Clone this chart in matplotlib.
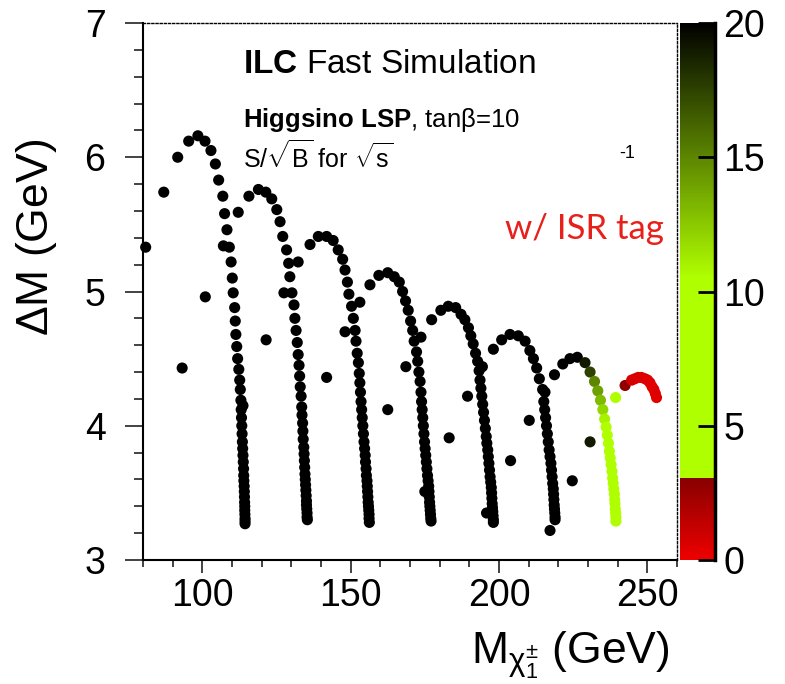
import matplotlib
matplotlib.use('Agg')
import matplotlib.pyplot as plt
from matplotlib.colors import LinearSegmentedColormap
from matplotlib.ticker import MultipleLocator

plt.rcParams['font.family'] = ['Liberation Sans', 'DejaVu Sans']
plt.rcParams['mathtext.fontset'] = 'custom'
plt.rcParams['mathtext.rm'] = 'Liberation Sans'
plt.rcParams['mathtext.it'] = 'Liberation Sans:italic'
plt.rcParams['mathtext.bf'] = 'Liberation Sans:bold'

# Chargino mass (GeV) and mass splitting (GeV), one scan per arc
arc1_m = [80.9, 87.0, 91.7, 95.4, 98.5, 100.9, 102.9, 104.4, 105.5, 106.9,
          107.5, 108.3, 107.1, 109.1, 109.7, 110.1, 110.4, 110.9, 111.1, 111.3,
          111.6, 111.9, 112.3, 112.6, 112.8, 113.0, 113.7, 113.1, 113.2, 113.3,
          113.4, 113.5, 113.6, 113.7, 113.8, 113.9, 113.95, 114.0, 114.1, 114.15,
          114.2, 114.25, 114.3, 114.3, 114.35, 114.4, 114.4, 114.4]
arc1_dm = [5.33, 5.74, 6.00, 6.12, 6.16, 6.12, 6.05, 5.95, 5.83, 5.71,
           5.58, 5.46, 5.34, 5.33, 5.22, 5.10, 4.99, 4.88, 4.78, 4.68,
           4.59, 4.50, 4.42, 4.34, 4.27, 4.19, 4.15, 4.12, 4.06, 4.00,
           3.94, 3.88, 3.83, 3.78, 3.73, 3.68, 3.63, 3.59, 3.55, 3.51,
           3.47, 3.43, 3.40, 3.37, 3.34, 3.31, 3.29, 3.27]

arc2_m = [112.1, 115.7, 118.9, 121.4, 123.4, 125.1, 126.2, 127.1, 128.4, 129.1,
          129.5, 127.5, 130.2, 130.9, 131.2, 131.6, 132.0, 132.3, 132.6, 132.8,
          133.0, 133.3, 133.5, 133.6, 133.8, 133.9, 134.0, 134.2, 134.3, 134.4,
          134.5, 134.6, 134.7, 134.8, 134.9, 135.0, 135.1, 135.1, 135.2, 135.3,
          135.3, 135.4]
arc2_dm = [5.59, 5.71, 5.76, 5.74, 5.69, 5.61, 5.52, 5.41, 5.31, 5.21,
           5.11, 4.99, 4.99, 4.90, 4.80, 4.71, 4.62, 4.53, 4.45, 4.37,
           4.29, 4.22, 4.14, 4.08, 4.02, 3.96, 3.90, 3.84, 3.79, 3.74,
           3.69, 3.64, 3.60, 3.56, 3.52, 3.48, 3.44, 3.41, 3.38, 3.35,
           3.32, 3.30]

arc3_m = [132.3, 136.3, 139.1, 141.9, 144.1, 145.8, 147.3, 148.1, 148.9, 149.4,
          150.3, 150.9, 148.1, 151.5, 151.8, 152.2, 152.6, 152.9, 153.1, 153.3,
          153.5, 153.7, 153.9, 154.1, 154.3, 154.5, 154.7, 154.9, 155.0, 155.2,
          155.3, 155.5, 155.6, 155.7, 155.8, 155.9, 156.0, 156.1, 156.2, 156.2,
          156.3]
arc3_dm = [5.22, 5.35, 5.41, 5.41, 5.38, 5.31, 5.24, 5.16, 5.07, 4.98,
           4.89, 4.80, 4.70, 4.71, 4.63, 4.54, 4.47, 4.39, 4.32, 4.25,
           4.18, 4.12, 4.06, 4.00, 3.94, 3.88, 3.83, 3.78, 3.73, 3.68,
           3.63, 3.59, 3.55, 3.51, 3.47, 3.43, 3.40, 3.37, 3.34, 3.31,
           3.28]

arc4_m = [153.1, 156.5, 159.5, 162.5, 164.7, 166.4, 167.5, 168.5, 169.4, 170.2,
          170.9, 171.4, 173.7, 172.2, 172.6, 173.0, 173.4, 173.7, 173.9, 174.1,
          174.3, 174.5, 174.7, 174.9, 175.1, 175.3, 175.5, 175.7, 175.9, 176.1,
          176.3, 176.4, 176.5, 176.6, 176.7, 176.8, 176.9, 177.0, 177.1]
arc4_dm = [4.92, 5.05, 5.12, 5.14, 5.11, 5.07, 5.00, 4.93, 4.86, 4.78,
           4.71, 4.63, 4.66, 4.55, 4.48, 4.40, 4.33, 4.25, 4.18, 4.12,
           4.06, 4.00, 3.94, 3.88, 3.83, 3.78, 3.73, 3.68, 3.63, 3.59,
           3.55, 3.51, 3.47, 3.43, 3.40, 3.37, 3.34, 3.31, 3.29]

arc5_m = [177.3, 180.4, 182.9, 185.4, 187.2, 188.5, 189.7, 190.5, 191.3, 192.1,
          192.8, 194.4, 193.3, 193.6, 193.9, 194.2, 194.5, 194.8, 195.1, 195.4,
          195.7, 195.9, 196.2, 196.4, 196.6, 196.8, 197.0, 197.2, 197.4, 197.5,
          197.6, 197.7, 197.8, 197.9, 198.0, 198.1, 198.1]
arc5_dm = [4.79, 4.86, 4.89, 4.88, 4.83, 4.79, 4.73, 4.67, 4.61, 4.54,
           4.48, 4.44, 4.41, 4.34, 4.28, 4.22, 4.16, 4.10, 4.04, 3.98,
           3.92, 3.87, 3.82, 3.77, 3.72, 3.67, 3.62, 3.58, 3.54, 3.50,
           3.46, 3.42, 3.39, 3.36, 3.33, 3.30, 3.28]

arc6_m = [198.1, 200.9, 203.7, 206.5, 208.8, 210.4, 211.6, 212.7, 213.6, 214.7,
          215.5, 215.1, 215.4, 215.7, 216.0, 216.3, 216.6, 216.9, 217.2, 217.5,
          217.7, 217.9, 218.1, 218.3, 218.4, 218.5, 218.6, 218.7, 218.8, 218.9,
          218.9]
arc6_dm = [4.57, 4.64, 4.68, 4.67, 4.63, 4.56, 4.50, 4.43, 4.35, 4.27,
           4.25, 4.18, 4.12, 4.06, 4.00, 3.94, 3.88, 3.82, 3.77, 3.72,
           3.67, 3.62, 3.57, 3.53, 3.49, 3.45, 3.41, 3.38, 3.35, 3.32,
           3.30]

arc7_m = [218.7, 221.5, 223.9, 226.4, 229.0, 230.7, 232.2, 233.3, 234.2, 235.0,
          235.6, 236.1, 236.5, 236.9, 237.2, 237.5, 237.8, 238.1, 238.3, 238.5,
          238.7, 238.9, 239.0, 239.1, 239.2, 239.3, 239.4, 239.4]
arc7_dm = [4.38, 4.46, 4.50, 4.51, 4.47, 4.40, 4.33, 4.26, 4.19, 4.12,
           4.05, 3.99, 3.93, 3.87, 3.81, 3.76, 3.71, 3.66, 3.61, 3.57,
           3.53, 3.49, 3.45, 3.42, 3.38, 3.35, 3.32, 3.29]
arc7_z = [20, 20, 20, 20, 19, 17.5, 15, 14, 13, 12,
          11, 10, 9.5, 9, 9, 8.5, 8.5, 8, 8, 8,
          7.5, 7.5, 7.5, 7, 7, 7, 7, 7]

arc8_m = [242.5, 244.7, 245.8, 246.9, 248.0, 249.2, 250.1, 250.9, 251.6, 252.2,
          252.7, 253.1]
arc8_dm = [4.30, 4.34, 4.35, 4.36, 4.36, 4.35, 4.34, 4.32, 4.29, 4.27,
           4.24, 4.21]
arc8_z = [2.8, 0.8, 0.7, 0.6, 0.6, 0.5, 0.5, 0.5, 0.4, 0.4,
          0.4, 0.4]

# off-arc points
iso_m = [93.2, 101.0, 121.5, 141.9, 162.5, 168.6, 175.0, 183.2, 189.4, 195.8,
         203.9, 210.2, 217.2, 224.7, 230.7, 239.3]
iso_dm = [4.43, 4.96, 4.64, 4.36, 4.12, 4.44, 3.51, 3.91, 4.22, 3.35,
          3.74, 4.04, 3.22, 3.59, 3.88, 4.21]
iso_z = [20, 20, 20, 20, 20, 20, 20, 20, 20, 20,
         20, 20, 20, 20, 19, 6]

# arcs 1-6 sit above the top of the palette
Z_MAX = 20
black_arcs = [(arc1_m, arc1_dm), (arc2_m, arc2_dm), (arc3_m, arc3_dm),
              (arc4_m, arc4_dm), (arc5_m, arc5_dm), (arc6_m, arc6_dm)]

# palette: red below 3, flat yellow-green, then fading to black at 20
cmap = LinearSegmentedColormap.from_list('sig', [
    (0.0, '#ee0000'),
    (0.1499, '#880000'),
    (0.15, '#b0ff00'),
    (0.525, '#b0ff00'),
    (1.0, '#000000'),
])

fig = plt.figure(figsize=(7.85, 6.84), dpi=100)
ax = fig.add_axes([143/785, 124/684, 534/785, 537/684])
cax = fig.add_axes([680/785, 124/684, 35/785, 537/684])

kw = dict(cmap=cmap, vmin=0, vmax=Z_MAX, s=64, edgecolors='none', zorder=3, clip_on=False)
for m, dm in black_arcs:
    ax.scatter(m, dm, c=[Z_MAX] * len(m), **kw)
ax.scatter(iso_m, iso_dm, c=iso_z, **kw)
ax.scatter(arc7_m, arc7_dm, c=arc7_z, **kw)
sc = ax.scatter(arc8_m, arc8_dm, c=arc8_z, **kw)

ax.set_xlim(80, 260)
ax.set_ylim(3, 7)
ax.xaxis.set_major_locator(MultipleLocator(50))
ax.xaxis.set_minor_locator(MultipleLocator(10))
ax.yaxis.set_major_locator(MultipleLocator(1))
ax.yaxis.set_minor_locator(MultipleLocator(0.2))
ax.tick_params(axis='both', which='both', direction='out', top=False, right=False,
               width=1.2, color='#222222')
ax.tick_params(axis='x', which='major', length=9.5, pad=3.5, labelsize=27)
ax.tick_params(axis='x', which='minor', length=5)
ax.tick_params(axis='y', which='major', length=13, pad=14, labelsize=27)
ax.tick_params(axis='y', which='minor', length=6.5)
for side in ['left', 'bottom']:
    ax.spines[side].set_linewidth(1.5)
for side in ['top', 'right']:
    ax.spines[side].set_linewidth(1)
    ax.spines[side].set_linestyle((0, (1.5, 1.5)))

cbar = fig.colorbar(sc, cax=cax)
cbar.set_ticks([0, 5, 10, 15, 20])
cbar.minorticks_off()
cbar.outline.set_visible(False)
cax.tick_params(direction='in', length=12, width=2, labelsize=27, pad=6, color='k')
cax.plot([1, 1], [0, 1], transform=cax.transAxes, color='k', lw=2.5, clip_on=False)

fig.text(37/785, 1 - 237/684, r'$\Delta$M (GeV)', rotation=90, ha='center', va='center', size=32)
fig.text(670/785, 1 - 663/684, r'M$_{\mathrm{\chi}_{1}^{\pm}}$ (GeV)', ha='right', va='baseline', size=32)

fig.text(243/785, 1 - 73/684, r'$\mathbf{ILC}$ Fast Simulation', size=24, va='baseline')
fig.text(243/785, 1 - 127/684, r'$\mathbf{Higgsino\ LSP}$, tanβ=10', size=18.5, va='baseline')
fig.text(243/785, 1 - 168/684, r'S/$\sqrt{\mathrm{B}}$ for $\sqrt{\mathrm{s}}$', size=18, va='baseline')
fig.text(619/785, 1 - 158/684, '-1', size=13, va='baseline')
fig.text(505/785, 1 - 239/684, 'w/ ISR tag', size=25, color='#e8201c', family='Lato', va='baseline')

fig.savefig('out.png', dpi=100)
